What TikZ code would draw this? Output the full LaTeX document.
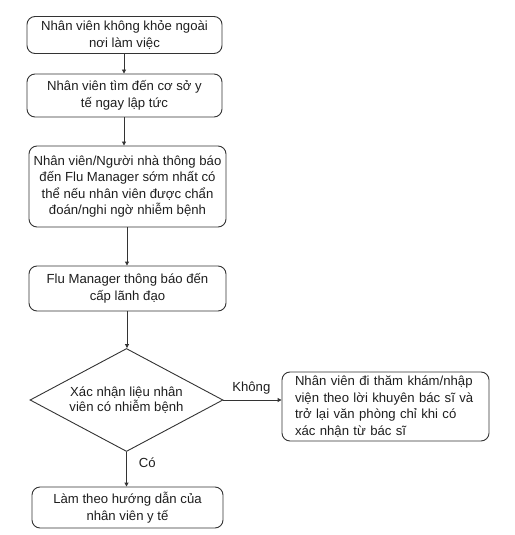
\documentclass[tikz,border=0pt]{standalone}
\usepackage{fontspec}
\setmainfont{Liberation Sans}
\usetikzlibrary{shapes.geometric,arrows.meta}
\definecolor{lc}{HTML}{333333}
\definecolor{tc}{HTML}{1E1E1E}
\tikzset{
  box/.style={draw=lc, line width=0.9bp, rounded corners=8bp, align=center, text=tc, inner sep=1bp, font=\fontsize{13.2}{16.6}\selectfont},
  dec/.style={draw=lc, line width=0.9bp, shape=diamond, shape aspect=1.874, align=center, text=tc, inner sep=0pt, font=\fontsize{13.2}{15}\selectfont},
  conn/.style={draw=lc, line width=0.9bp, -{Triangle[length=4bp,width=4bp]}},
  lbl/.style={text=tc, font=\fontsize{13.2}{15}\selectfont, inner sep=1bp}
}
\begin{document}
\begin{tikzpicture}[x=1bp,y=-1bp]
\useasboundingbox (0,0) rectangle (515,535);
\node[box, minimum width=195bp, minimum height=37bp] (b1) at (124.5,35) {Nhân viên không khỏe ngoài\\nơi làm việc};
\node[box, minimum width=195bp, minimum height=43bp] (b2) at (124.5,95.5) {Nhân viên tìm đến cơ sở y\\tế ngay lập tức};
\node[box, minimum width=197bp, minimum height=81bp] (b3) at (127.5,186.5) {Nhân viên/Người nhà thông báo\\đến Flu Manager sớm nhất có\\thể nếu nhân viên được chẩn\\đoán/nghi ngờ nhiễm bệnh};
\node[box, minimum width=197bp, minimum height=45bp] (b4) at (127.5,288.5) {Flu Manager thông báo đến\\cấp lãnh đạo};
\node[dec, minimum width=193bp, minimum height=103bp] (d) at (126.5,400) {Xác nhận liệu nhân\\viên có nhiễm bệnh};
\node[box, align=left, inner xsep=13bp, minimum width=207bp, minimum height=69bp, text width=181bp] (b5) at (385.5,406.5) {Nhân viên đi thăm khám/nhập\\viện theo lời khuyên bác sĩ và\\trở lại văn phòng chỉ khi có\\xác nhận từ bác sĩ};
\node[box, minimum width=191bp, minimum height=41bp] (b6) at (127.5,507.5) {Làm theo hướng dẫn của\\nhân viên y tế};
\draw[conn] (b1.south -| 124,0) -- (b2.north -| 124,0);
\draw[conn] (b2.south -| 124,0) -- (b3.north -| 124,0);
\draw[conn] (b3.south -| 127,0) -- (b4.north -| 127,0);
\draw[conn] (b4.south -| 127,0) -- (d.north -| 127,0);
\draw[conn] (d.east) -- (d.east -| b5.west) node[lbl, pos=0.48, above=4bp] {Không};
\draw[conn] (d.south) -- (b6.north -| d.south) node[lbl, pos=0.3, right=11bp] {Có};
\end{tikzpicture}
\end{document}
